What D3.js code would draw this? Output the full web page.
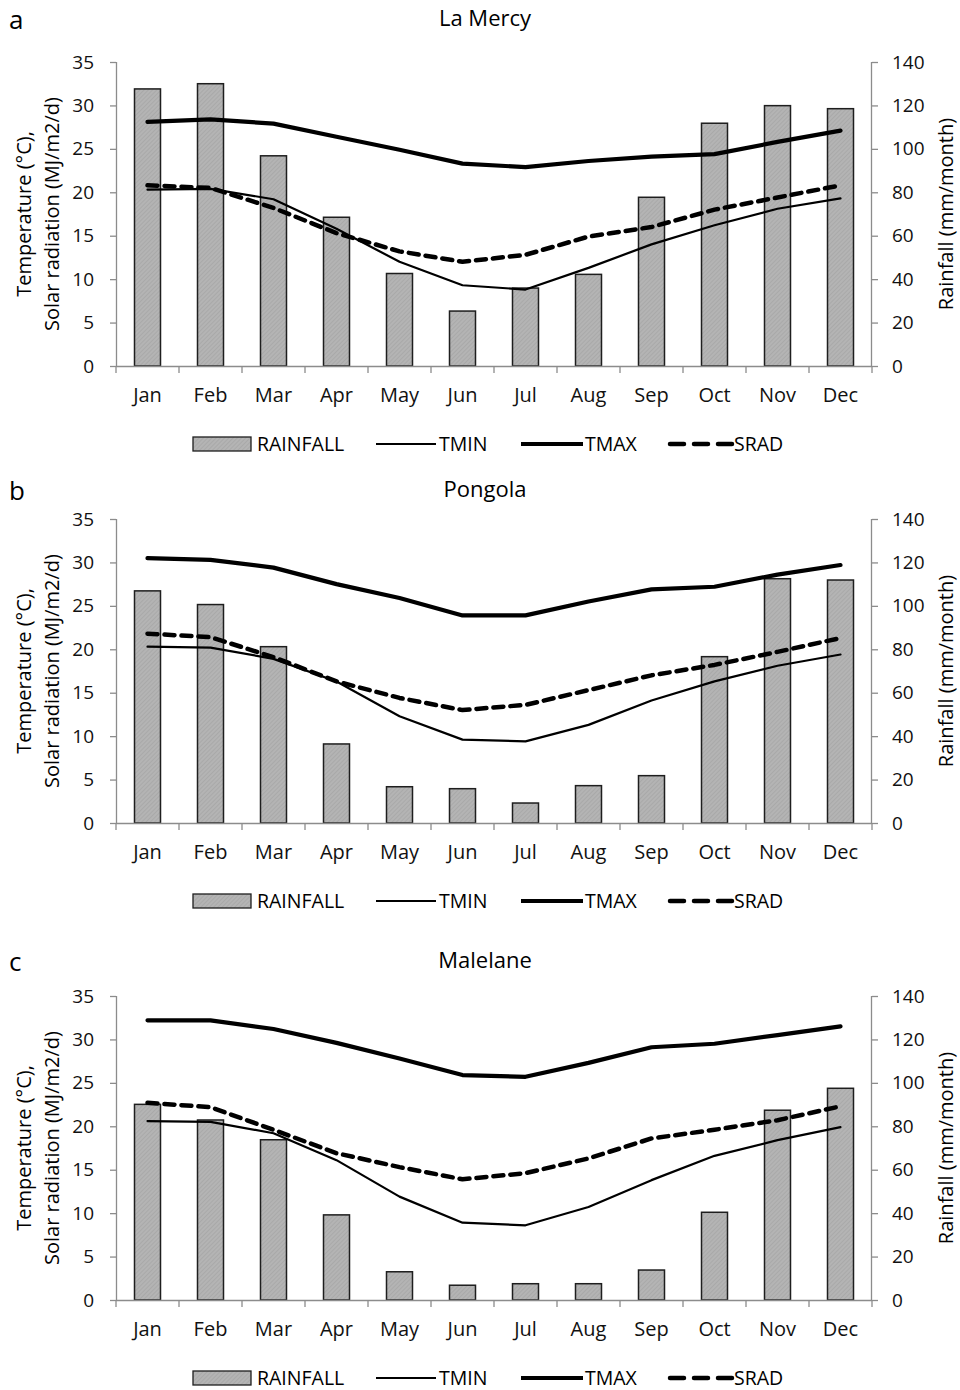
<!DOCTYPE html>
<html>
<head>
<meta charset="utf-8">
<script src="https://cdn.jsdelivr.net/npm/d3@7"></script>
<style>
  body { margin: 0; background: #fff; }
  svg { display: block; font-family: "Open Sans", sans-serif; }
</style>
</head>
<body>
<div id="chart-container"></div>
<script>
const months = ["Jan", "Feb", "Mar", "Apr", "May", "Jun", "Jul", "Aug", "Sep", "Oct", "Nov", "Dec"];
const tempTicks = [0, 5, 10, 15, 20, 25, 30, 35];
const rainTicks = [0, 20, 40, 60, 80, 100, 120, 140];

// La Mercy
const laMercyRain = [127.6, 130, 96.8, 68.5, 42.6, 25.3, 35.9, 42.2, 77.7, 111.8, 119.9, 118.5];
const laMercyTmin = [20.3, 20.4, 19.2, 15.8, 12.0, 9.3, 8.8, 11.3, 14.0, 16.2, 18.1, 19.3];
const laMercyTmax = [28.1, 28.4, 27.9, 26.4, 24.9, 23.3, 22.9, 23.6, 24.1, 24.4, 25.8, 27.1];
const laMercySrad = [20.8, 20.5, 18.2, 15.3, 13.2, 12.0, 12.8, 14.9, 16.0, 18.0, 19.4, 20.8];

// Pongola
const pongolaRain = [106.9, 100.6, 81.2, 36.4, 16.7, 15.8, 9.2, 17.2, 21.8, 76.6, 112.5, 111.9];
const pongolaTmin = [20.3, 20.2, 18.9, 16.3, 12.3, 9.6, 9.4, 11.3, 14.1, 16.3, 18.1, 19.4];
const pongolaTmax = [30.5, 30.3, 29.4, 27.5, 25.9, 23.9, 23.9, 25.5, 26.9, 27.2, 28.6, 29.7];
const pongolaSrad = [21.8, 21.4, 19.1, 16.3, 14.4, 13.0, 13.6, 15.3, 17.0, 18.2, 19.7, 21.3];

// Malelane
const malelaneRain = [90.1, 82.9, 73.8, 39.2, 13.0, 6.8, 7.5, 7.5, 13.8, 40.4, 87.4, 97.5];
const malelaneTmin = [20.6, 20.5, 19.2, 16.1, 11.9, 8.9, 8.6, 10.7, 13.8, 16.6, 18.4, 19.9];
const malelaneTmax = [32.2, 32.2, 31.2, 29.6, 27.8, 25.9, 25.7, 27.3, 29.1, 29.5, 30.5, 31.5];
const malelaneSrad = [22.7, 22.2, 19.6, 16.9, 15.3, 13.9, 14.6, 16.3, 18.6, 19.6, 20.7, 22.3];

const panels = [
    { letter: "a", title: "La Mercy", top: 62, titleY: 26, rain: laMercyRain, tmin: laMercyTmin, tmax: laMercyTmax, srad: laMercySrad },
    { letter: "b", title: "Pongola", top: 519, titleY: 497, rain: pongolaRain, tmin: pongolaTmin, tmax: pongolaTmax, srad: pongolaSrad },
    { letter: "c", title: "Malelane", top: 996, titleY: 968, rain: malelaneRain, tmin: malelaneTmin, tmax: malelaneTmax, srad: malelaneSrad }
];

const width = 960;
const height = 1390;
const left = 116;
const right = 872;
const plotHeight = 304;
const axisColor = "#8c8c8c";

const svg = d3.select("#chart-container")
    .append("svg")
    .attr("width", width)
    .attr("height", height);

// hatched grey fill for the rainfall bars
const pattern = svg.append("defs")
    .append("pattern")
    .attr("id", "hatch")
    .attr("patternUnits", "userSpaceOnUse")
    .attr("width", 3)
    .attr("height", 3)
    .attr("patternTransform", "rotate(45)");
pattern.append("rect")
    .attr("width", 3)
    .attr("height", 3)
    .attr("fill", "#b4b4b4");
pattern.append("line")
    .attr("x1", 0).attr("y1", 0)
    .attr("x2", 0).attr("y2", 3)
    .attr("stroke", "#a2a2a2")
    .attr("stroke-width", 1.2);

const x = d3.scaleBand()
    .domain(months)
    .range([left, right]);

const lineStyles = {
    tmin: { width: 2.2, dash: null },
    tmax: { width: 4.2, dash: null },
    srad: { width: 4.5, dash: "10,7" }
};

panels.forEach(p => {
    const bottom = p.top + plotHeight;
    const g = svg.append("g");

    const yTemp = d3.scaleLinear().domain([0, 35]).range([bottom, p.top]);
    const yRain = d3.scaleLinear().domain([0, 140]).range([bottom, p.top]);

    // panel letter and title
    g.append("text")
        .attr("x", 9)
        .attr("y", p.titleY + 3)
        .style("font-size", "26px")
        .text(p.letter);

    g.append("text")
        .attr("x", 485)
        .attr("y", p.titleY)
        .attr("text-anchor", "middle")
        .style("font-size", "22px")
        .text(p.title);

    // bars
    const barWidth = 26;
    g.selectAll(".bar")
        .data(p.rain)
        .enter()
        .append("rect")
        .attr("class", "bar")
        .attr("x", (d, i) => x(months[i]) + x.bandwidth() / 2 - barWidth / 2)
        .attr("y", d => yRain(d))
        .attr("width", barWidth)
        .attr("height", d => bottom - yRain(d))
        .attr("fill", "url(#hatch)")
        .attr("stroke", "#1e1e1e")
        .attr("stroke-width", 1.5);

    // axes
    const leftAxis = g.append("g")
        .attr("transform", `translate(${left},0)`)
        .call(d3.axisLeft(yTemp).tickValues(tempTicks).tickSize(6).tickPadding(16));
    const rightAxis = g.append("g")
        .attr("transform", `translate(${right},0)`)
        .call(d3.axisRight(yRain).tickValues(rainTicks).tickSize(6).tickPadding(14));
    const bottomAxis = g.append("g")
        .attr("transform", `translate(0,${bottom})`)
        .call(d3.axisBottom(x).tickSize(0).tickPadding(22));

    // x ticks sit on the band edges
    bottomAxis.selectAll(".edge")
        .data(d3.range(13))
        .enter()
        .append("line")
        .attr("class", "edge")
        .attr("x1", i => left + i * x.step())
        .attr("x2", i => left + i * x.step())
        .attr("y1", 0)
        .attr("y2", 7)
        .attr("stroke", axisColor)
        .attr("stroke-width", 1.3);

    [leftAxis, rightAxis, bottomAxis].forEach(ax => {
        ax.selectAll("path").attr("stroke", axisColor).attr("stroke-width", 1.3);
        ax.selectAll(".tick line").attr("stroke", axisColor).attr("stroke-width", 1.3);
        ax.selectAll("text")
            .attr("fill", "#111")
            .style("font-family", "'Open Sans', sans-serif")
            .style("font-size", "19px");
    });
    bottomAxis.selectAll("text").style("font-size", "20px");
    bottomAxis.selectAll("path").attr("d", `M${left},0.5H${right}`);
    leftAxis.selectAll("path").attr("d", `M0.5,${p.top}V${bottom}`);
    rightAxis.selectAll("path").attr("d", `M-0.5,${p.top}V${bottom}`);

    // axis titles
    const mid = (p.top + bottom) / 2;
    const yTitle = g.append("text")
        .attr("transform", `translate(31,${mid}) rotate(-90)`)
        .attr("text-anchor", "middle")
        .style("font-size", "20px");
    yTitle.append("tspan").attr("x", 0).attr("dy", 0).text("Temperature (°C),");
    yTitle.append("tspan").attr("x", 0).attr("dy", 28).text("Solar radiation (MJ/m2/d)");

    g.append("text")
        .attr("transform", `translate(953,${mid}) rotate(-90)`)
        .attr("text-anchor", "middle")
        .style("font-size", "20px")
        .text("Rainfall (mm/month)");

    // lines
    ["tmin", "tmax", "srad"].forEach(key => {
        const line = d3.line()
            .x((d, i) => x(months[i]) + x.bandwidth() / 2)
            .y(d => yTemp(d));
        g.append("path")
            .datum(p[key])
            .attr("d", line)
            .attr("fill", "none")
            .attr("stroke", "#000")
            .attr("stroke-width", lineStyles[key].width)
            .attr("stroke-linecap", "round")
            .attr("stroke-linejoin", "round")
            .attr("stroke-dasharray", lineStyles[key].dash);
    });

    // legend
    const ly = bottom + 78;
    const legend = g.append("g").style("font-size", "19.5px");
    legend.append("rect")
        .attr("x", 193).attr("y", ly - 7)
        .attr("width", 58).attr("height", 14)
        .attr("fill", "url(#hatch)")
        .attr("stroke", "#1e1e1e")
        .attr("stroke-width", 1.3);
    legend.append("text").attr("x", 257).attr("y", ly).attr("dy", "0.35em").text("RAINFALL");

    const legendLines = [
        { key: "tmin", x1: 376, x2: 436, label: "TMIN", tx: 439 },
        { key: "tmax", x1: 521, x2: 583, label: "TMAX", tx: 585 },
        { key: "srad", x1: 670, x2: 732, label: "SRAD", tx: 734 }
    ];
    legendLines.forEach(l => {
        legend.append("line")
            .attr("x1", l.x1).attr("x2", l.x2)
            .attr("y1", ly).attr("y2", ly)
            .attr("stroke", "#000")
            .attr("stroke-width", lineStyles[l.key].width)
            .attr("stroke-linecap", l.key === "srad" ? "round" : "butt")
            .attr("stroke-dasharray", l.key === "srad" ? "14,10" : null);
        legend.append("text").attr("x", l.tx).attr("y", ly).attr("dy", "0.35em").text(l.label);
    });
});
</script>
</body>
</html>
